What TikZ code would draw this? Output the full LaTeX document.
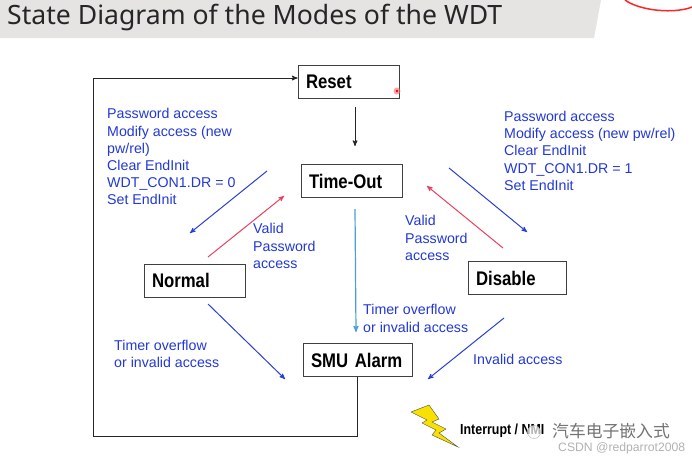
\documentclass[tikz,border=0pt]{standalone}
\usepackage{fontspec}
\setmainfont{Liberation Sans}
\newfontfamily\titlefont{Noto Sans}
\newfontfamily\boxfont[FakeStretch=0.85]{Liberation Sans}
\newfontfamily\cjkfont{Noto Sans CJK SC}
\usepackage{tikz}
\usetikzlibrary{positioning, calc, arrows}
\definecolor{bandgray}{HTML}{E6E3E3}
\definecolor{labelblue}{HTML}{2238D8}
\definecolor{arrowblue}{HTML}{2A3FD6}
\definecolor{arrowred}{HTML}{E8415F}
\definecolor{arrowsky}{HTML}{4A9FD8}
\definecolor{boltyellow}{HTML}{F8E000}
\tikzset{
  state/.style={draw=black!75, line width=1pt, fill=white, text width=#1-16pt, align=left, inner xsep=8pt, inner ysep=0pt, minimum height=33pt, font=\boxfont\fontsize{19.7}{21}\selectfont\bfseries},
  lbl/.style={anchor=north west, align=left, inner sep=0pt, text=labelblue, font=\fontsize{14.2}{17.2}\selectfont},
  blueline/.style={->, >=stealth', arrowblue, line width=1pt},
  redline/.style={->, >=stealth', arrowred, line width=1pt},
  skyline/.style={->, >=stealth', arrowsky, line width=1.2pt},
  blackline/.style={->, >=stealth', black!85, line width=1pt},
}
\begin{document}
\begin{tikzpicture}[x=1pt,y=-1pt]
  \useasboundingbox (0,0) rectangle (692,461);
  \fill[white] (0,0) rectangle (692,461);
  % title band
  \fill[bandgray] (0,0) -- (601,0) -- (594,38) -- (0,38) -- cycle;
  \node[anchor=west, inner sep=0pt, font=\titlefont\fontsize{26.6}{30}\selectfont, text=black!85] (title) at (7,18) {State Diagram of the Modes of the WDT};
  \draw[red!80!pink, line width=1.5pt] (625,0) .. controls (640,11) and (675,14) .. (692,7);

  % states
  \node[state=101pt] (reset) at (348.5,81.5) {Reset};
  \node[state=101pt] (timeout) at (351.5,181) {Time-Out};
  \node[state=101pt] (normal) at (194.5,280.5) {Normal};
  \node[state=98pt] (disable) at (517,278) {Disable};
  \node[state=109pt] (alarm) at (357.5,360) {SMU Alarm};
  \fill[red!60, opacity=.6] (397,91) circle (3.5pt);
  \fill[red] (397,91) circle (1.3pt);

  % labels
  \node[lbl] (pwleft) at (107,108.5) {Password access\\Modify access (new\\pw/rel)\\Clear EndInit\\WDT\_CON1.DR = 0\\Set EndInit};
  \node[lbl] (pwright) at (504,111) {Password access\\Modify access (new pw/rel)\\Clear EndInit\\WDT\_CON1.DR = 1\\Set EndInit};
  \node[lbl] (validleft) at (253,223.5) {Valid\\Password\\access};
  \node[lbl] (validright) at (405,215.5) {Valid\\Password\\access};
  \node[lbl] (overmid) at (363,304.5) {Timer overflow\\or invalid access};
  \node[lbl] (overleft) at (114,340) {Timer overflow\\or invalid access};
  \node[lbl] (invalid) at (473,354) {Invalid access};

  % free ends of the arrows
  \coordinate (resetout) at (355,107);
  \coordinate (toin) at (355,146);
  \coordinate (toout) at (355,209);
  \coordinate (alarmin) at (356,332);
  \coordinate (aux1) at (93,436);
  \coordinate (aux2) at (93,78);
  \coordinate (tonormal1) at (267,171);
  \coordinate (tonormal2) at (190,233);
  \coordinate (fromnormal1) at (208,257);
  \coordinate (fromnormal2) at (284,196);
  \coordinate (todisable1) at (449,168);
  \coordinate (todisable2) at (527,232);
  \coordinate (fromdisable1) at (503,248);
  \coordinate (fromdisable2) at (427,186);
  \coordinate (overflow1) at (208,304);
  \coordinate (overflow2) at (285,379);
  \coordinate (invalid1) at (504,318);
  \coordinate (invalid2) at (428,379);

  \path[blackline] (resetout) edge (toin);
  \draw[blackline] (alarm.south) -- (alarm.south |- aux1) -- (aux1) -- (aux2) -- (reset.west |- aux2);
  \path[blueline]
    (tonormal1) edge (tonormal2)
    (todisable1) edge (todisable2)
    (overflow1) edge (overflow2)
    (invalid1) edge (invalid2);
  \path[redline]
    (fromnormal1) edge (fromnormal2)
    (fromdisable1) edge (fromdisable2);
  \path[skyline] (toout) edge (alarmin);

  % bolt and footer
  \filldraw[fill=boltyellow, draw=black!70, line width=.4pt] (411,412) -- (429,405) -- (439,419) -- (432,422) -- (446,429) -- (439,433) -- (458,447) -- (432,435) -- (436,430) -- (422,423) -- (427,420) -- cycle;
  \node[anchor=west, inner sep=0pt, font=\boxfont\fontsize{14.6}{16}\selectfont\bfseries] (irq) at (460,431) {Interrupt / NMI};
  \node[draw=gray!60, fill=white, fill opacity=.7, circle, minimum size=13pt, inner sep=0pt] (logo) at (534,432) {};
  \node[anchor=west, inner sep=0pt, text=black!55, font=\cjkfont\fontsize{16.8}{18}\selectfont] (mark) at (552,431) {汽车电子嵌入式};
  \node[anchor=west, inner sep=0pt, text=black!30, font=\fontsize{12.2}{14}\selectfont] (csdn) at (558,448) {CSDN @redparrot2008};
\end{tikzpicture}
\end{document}
